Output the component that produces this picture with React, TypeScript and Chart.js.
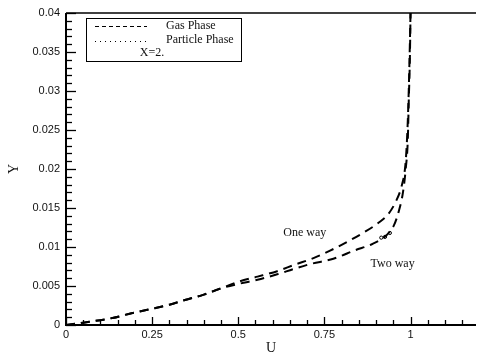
import React, { useEffect, useRef } from "react";
import { Chart, registerables } from "chart.js";

Chart.register(...registerables);

// Shared near-wall part of both profiles
const wallU = [0, 0.05, 0.135, 0.19, 0.24, 0.3, 0.345, 0.4, 0.45];
const wallY = [0, 0.0003, 0.0009, 0.0015, 0.002, 0.0026, 0.0032, 0.0039, 0.0047];

// One way (gas phase)
const oneWayU = [0.504, 0.556, 0.613, 0.662, 0.72, 0.765, 0.822, 0.862, 0.907, 0.935, 0.957, 0.974, 0.985, 0.99, 0.994, 0.997, 1.0];
const oneWayY = [0.0056, 0.0062, 0.0069, 0.0077, 0.0086, 0.0095, 0.0108, 0.0118, 0.0131, 0.0142, 0.0158, 0.0178, 0.0205, 0.024, 0.0288, 0.034, 0.04];

// Two way (gas phase)
const twoWayU = [0.504, 0.556, 0.613, 0.662, 0.708, 0.776, 0.84, 0.89, 0.93, 0.952, 0.966, 0.978, 0.986, 0.992, 0.995, 0.998, 1.0];
const twoWayY = [0.0053, 0.0058, 0.0065, 0.0072, 0.0078, 0.0085, 0.0096, 0.0104, 0.0115, 0.0128, 0.0146, 0.017, 0.02, 0.0237, 0.029, 0.034, 0.04];

// Particle phase fragments
const particleU = [0.915, 0.926, 0.94];
const particleY = [0.0112, 0.0113, 0.0118];

const xTicks = [0, 0.25, 0.5, 0.75, 1];
const xTickLabels = ["0", "0.25", "0.5", "0.75", "1"];
const yTicks = [0, 0.005, 0.01, 0.015, 0.02, 0.025, 0.03, 0.035, 0.04];
const yTickLabels = ["0", "0.005", "0.01", "0.015", "0.02", "0.025", "0.03", "0.035", "0.04"];
const xMinorStep = 0.05;
const yMinorStep = 0.001;

const legendGas = "Gas Phase";
const legendParticle = "Particle Phase";
const legendNote = "X=2.";
const noteOneWay = { text: "One way", u: 0.693, y: 0.0118 };
const noteTwoWay = { text: "Two way", u: 0.948, y: 0.0079 };

const toPts = (us: number[], ys: number[]) => us.map((u, i) => ({ x: u, y: ys[i] }));

const framePlugin = {
  id: "frame",
  afterDraw(chart: any) {
    const ctx = chart.ctx;
    const { left, right, top, bottom } = chart.chartArea;
    const xs = chart.scales.x;
    const ys = chart.scales.y;
    ctx.save();
    ctx.strokeStyle = "#000";
    // axes
    ctx.lineWidth = 2;
    ctx.beginPath();
    ctx.moveTo(left, top);
    ctx.lineTo(left, bottom);
    ctx.lineTo(right, bottom);
    ctx.stroke();
    ctx.lineWidth = 1.6;
    ctx.beginPath();
    ctx.moveTo(left, top);
    ctx.lineTo(right, top);
    ctx.stroke();
    // x ticks (inward)
    ctx.lineWidth = 1.3;
    const xmax = xs.max;
    for (let k = 0; k * xMinorStep <= xmax + 1e-9; k++) {
      const v = k * xMinorStep;
      const major = k % 5 === 0;
      const px = Math.round(xs.getPixelForValue(v)) + 0.5;
      ctx.beginPath();
      ctx.moveTo(px, bottom);
      ctx.lineTo(px, bottom - (major ? 8 : 5));
      ctx.stroke();
    }
    for (let k = 0; k * yMinorStep <= ys.max + 1e-9; k++) {
      const v = k * yMinorStep;
      const major = k % 5 === 0;
      const py = Math.round(ys.getPixelForValue(v)) + 0.5;
      ctx.beginPath();
      ctx.moveTo(left, py);
      ctx.lineTo(left + (major ? 10 : 6), py);
      ctx.stroke();
    }
    // legend box
    ctx.lineWidth = 1;
    ctx.strokeRect(86.5, 18.5, 155, 43);
    ctx.setLineDash([4, 3]);
    ctx.beginPath();
    ctx.moveTo(95, 26.5);
    ctx.lineTo(147, 26.5);
    ctx.stroke();
    ctx.setLineDash([1, 4]);
    ctx.beginPath();
    ctx.moveTo(95, 41.5);
    ctx.lineTo(147, 41.5);
    ctx.stroke();
    ctx.setLineDash([]);
    ctx.fillStyle = "#111";
    ctx.font = "12px 'Liberation Serif'";
    ctx.textBaseline = "middle";
    ctx.textAlign = "left";
    ctx.fillText(legendGas, 166, 26);
    ctx.fillText(legendParticle, 166, 40);
    ctx.textAlign = "center";
    ctx.fillText(legendNote, 152, 53);
    // annotations
    ctx.fillText(noteOneWay.text, xs.getPixelForValue(noteOneWay.u), ys.getPixelForValue(noteOneWay.y));
    ctx.fillText(noteTwoWay.text, xs.getPixelForValue(noteTwoWay.u), ys.getPixelForValue(noteTwoWay.y));
    ctx.restore();
  },
};

export default function App() {
  const ref = useRef<HTMLCanvasElement | null>(null);
  useEffect(() => {
    if (!ref.current) return;
    const dashed = {
      showLine: true,
      borderColor: "#000",
      borderWidth: 2,
      borderDash: [9, 6],
      pointRadius: 0,
      fill: false,
      cubicInterpolationMode: "monotone",
    };
    const chart = new Chart(ref.current, {
      type: "scatter",
      data: {
        datasets: [
          { label: "One way", data: toPts([...wallU, ...oneWayU], [...wallY, ...oneWayY]), ...dashed },
          { label: "Two way", data: toPts([...wallU, ...twoWayU], [...wallY, ...twoWayY]), ...dashed },
          {
            label: "Particle Phase",
            data: toPts(particleU, particleY),
            showLine: true,
            borderColor: "#000",
            borderWidth: 1,
            borderDash: [1, 2],
            pointRadius: 1.6,
            pointBackgroundColor: "#fff",
            pointBorderColor: "#000",
            pointBorderWidth: 1,
          },
        ],
      },
      options: {
        responsive: false,
        animation: false,
        devicePixelRatio: 1,
        layout: { padding: { top: 13, right: 0, left: 0, bottom: 0 } },
        plugins: { legend: { display: false }, tooltip: { enabled: false } },
        scales: {
          x: {
            type: "linear",
            min: 0,
            max: 1.19,
            grid: { display: false, drawTicks: false },
            border: { display: false },
            afterBuildTicks: (s: any) => {
              s.ticks = xTicks.map((v) => ({ value: v }));
            },
            afterFit: (s: any) => {
              s.height = 29;
            },
            ticks: {
              padding: 3,
              maxRotation: 0,
              autoSkip: false,
              color: "#111",
              font: { family: "'Liberation Sans', Arial", size: 11 },
              callback: (v: any) => {
                const i = xTicks.findIndex((t) => Math.abs(t - v) < 1e-9);
                return i >= 0 ? xTickLabels[i] : "";
              },
            },
            title: {
              display: true,
              text: "U",
              color: "#111",
              font: { family: "'Liberation Serif', serif", size: 14 },
              padding: { top: 0, bottom: -2.5 },
            },
          },
          y: {
            type: "linear",
            min: 0,
            max: 0.04,
            grid: { display: false, drawTicks: false },
            border: { display: false },
            afterBuildTicks: (s: any) => {
              s.ticks = yTicks.map((v) => ({ value: v }));
            },
            afterFit: (s: any) => {
              s.width = 66;
            },
            ticks: {
              padding: 6,
              autoSkip: false,
              color: "#111",
              font: { family: "'Liberation Sans', Arial", size: 11 },
              callback: (v: any) => {
                const i = yTicks.findIndex((t) => Math.abs(t - v) < 1e-9);
                return i >= 0 ? yTickLabels[i] : "";
              },
            },
            title: {
              display: true,
              text: "Y",
              color: "#111",
              font: { family: "'Liberation Serif', serif", size: 14 },
              padding: { top: 6, bottom: 0 },
            },
          },
        },
      },
      plugins: [framePlugin],
    } as any);
    return () => chart.destroy();
  }, []);
  return (
    <div style={{ position: "fixed", left: 0, top: 0, width: 481, height: 354, background: "#fff" }}>
      <canvas ref={ref} width={481} height={354} />
    </div>
  );
}
